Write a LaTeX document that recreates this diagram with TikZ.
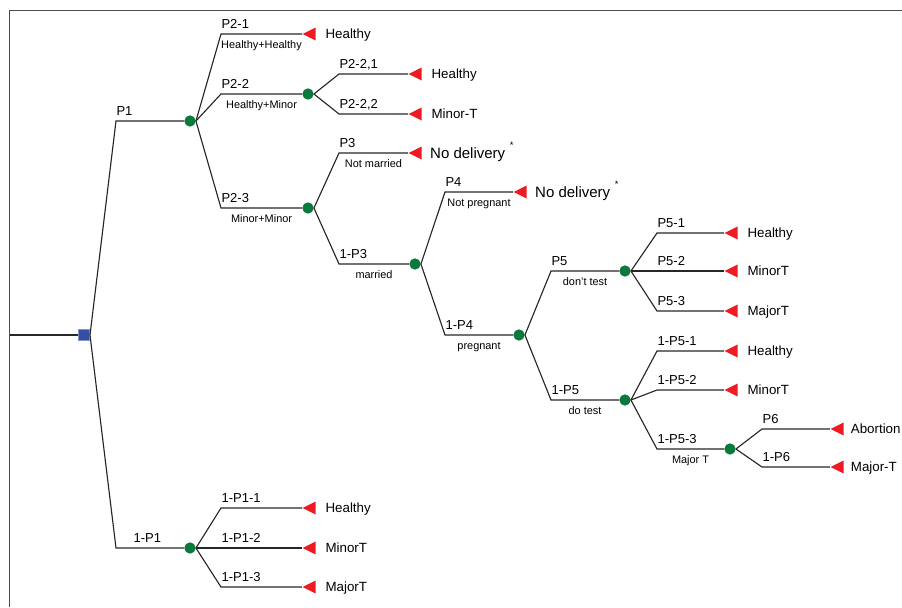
\documentclass[tikz,border=0pt]{standalone}
\usepackage{fontspec}
\setmainfont{Liberation Sans}
\usepackage{xcolor}
\usepackage{tikz}
\usetikzlibrary{
	shapes.geometric,positioning
}
\definecolor{dotgreen}{RGB}{10,122,60}
\definecolor{sqblue}{RGB}{52,78,165}
\definecolor{termred}{RGB}{237,28,36}

\begin{document}
\begin{tikzpicture}[x=0.75pt,y=-0.75pt,
	frame/.style={draw=black!70,line width=0.75pt},
	branch/.style={draw=black!85,line width=0.85pt},
	chance/.style={circle,fill=dotgreen,inner sep=0pt,minimum size=8.5pt},
	decide/.style={rectangle,fill=sqblue,draw=sqblue!60!white,line width=0.4pt,inner sep=0pt,minimum size=8.6pt},
	term/.style={isosceles triangle,isosceles triangle stretches,shape border rotate=180,
		fill=termred,inner sep=0pt,minimum width=9.75pt,minimum height=9.75pt,anchor=apex},
	toplbl/.style={anchor=base west,inner sep=0pt,yshift=4pt,font=\fontsize{9.75}{11}\selectfont},
	botlbl/.style={anchor=base,inner sep=0pt,yshift=-10.8pt,font=\fontsize{8.2}{9}\selectfont},
	endtxt/.style={inner sep=0pt,text height=7.2pt,text depth=0pt,font=\fontsize{10}{12}\selectfont},
	bigtxt/.style={inner sep=0pt,text height=8pt,text depth=0pt,font=\fontsize{11.25}{13}\selectfont}]
	\useasboundingbox (0,0) rectangle (902,607);
	\draw[frame] (9.5,607) -- (9.5,10.5) -- (902,10.5);
	%
	\node[decide] (d0) at (84,335) {};
	\node[chance] (c1) at (190,121) {};
	\node[chance] (c2) at (308,94) {};
	\node[chance] (c3) at (308,208) {};
	\node[chance] (c4) at (415,264) {};
	\node[chance] (c5) at (519,335) {};
	\node[chance] (c6) at (625,271) {};
	\node[chance] (c7) at (625,400) {};
	\node[chance] (c8) at (730,449) {};
	\node[chance] (c9) at (190,548) {};
	%
	\node[term] (t1) at (302,34) {};
	\node[term] (t2) at (408,74) {};
	\node[term] (t3) at (408,114) {};
	\node[term] (t4) at (408,153) {};
	\node[term] (t5) at (513,192) {};
	\node[term] (t6) at (724,233) {};
	\node[term] (t7) at (724,271) {};
	\node[term] (t8) at (724,311) {};
	\node[term] (t9) at (724,351) {};
	\node[term] (t10) at (724,390) {};
	\node[term] (t11) at (830,429) {};
	\node[term] (t12) at (830,467) {};
	\node[term] (t13) at (302,508) {};
	\node[term] (t14) at (302,548) {};
	\node[term] (t15) at (302,587) {};
	%
	\node[endtxt,right=7pt of t1] (e1) {Healthy};
	\node[endtxt,right=7pt of t2] (e2) {Healthy};
	\node[endtxt,right=7pt of t3] (e3) {Minor-T};
	\node[bigtxt,right=6pt of t4] (e4) {No delivery\hspace{3.5pt}\raisebox{7.5pt}{\fontsize{7}{7}\selectfont *}};
	\node[bigtxt,right=6pt of t5] (e5) {No delivery\hspace{3.5pt}\raisebox{7.5pt}{\fontsize{7}{7}\selectfont *}};
	\node[endtxt,right=7pt of t6] (e6) {Healthy};
	\node[endtxt,right=7pt of t7] (e7) {MinorT};
	\node[endtxt,right=7pt of t8] (e8) {MajorT};
	\node[endtxt,right=7pt of t9] (e9) {Healthy};
	\node[endtxt,right=7pt of t10] (e10) {MinorT};
	\node[endtxt,right=5pt of t11] (e11) {Abortion};
	\node[endtxt,right=5pt of t12] (e12) {Major-T};
	\node[endtxt,right=7pt of t13] (e13) {Healthy};
	\node[endtxt,right=7pt of t14] (e14) {MinorT};
	\node[endtxt,right=7pt of t15] (e15) {MajorT};
	%
	\coordinate (in) at (9.5,335);
	\coordinate (k1) at (116,121);
	\coordinate (k1n) at (116,548);
	\coordinate (k21) at (221,34);
	\coordinate (k22) at (221,94);
	\coordinate (k23) at (221,208);
	\coordinate (k221) at (339,74);
	\coordinate (k222) at (339,114);
	\coordinate (k3) at (339,153);
	\coordinate (k3n) at (339,264);
	\coordinate (k4) at (445,192);
	\coordinate (k4n) at (445,335);
	\coordinate (k5) at (551,271);
	\coordinate (k5n) at (551,400);
	\coordinate (k51) at (657,233);
	\coordinate (k52) at (657,271);
	\coordinate (k53) at (657,311);
	\coordinate (k5n1) at (657,351);
	\coordinate (k5n2) at (657,390);
	\coordinate (k5n3) at (657,449);
	\coordinate (k6) at (762,429);
	\coordinate (k6n) at (762,467);
	\coordinate (k1n1) at (221,508);
	\coordinate (k1n2) at (221,548);
	\coordinate (k1n3) at (221,587);
	%
	\draw[branch] (in) -- (d0);
	\draw[branch] (d0.east) -- (k1) node[toplbl]{P1} -- (c1);
	\draw[branch] (d0.east) -- (k1n) node[toplbl,xshift=12.75pt]{1-P1} -- (c9);
	\draw[branch] (c1.east) -- (k21) node[toplbl]{P2-1} -- node[botlbl]{Healthy+Healthy} (t1);
	\draw[branch] (c1.east) -- (k22) node[toplbl]{P2-2} -- node[botlbl]{Healthy+Minor} (c2);
	\draw[branch] (c1.east) -- (k23) node[toplbl]{P2-3} -- node[botlbl]{Minor+Minor} (c3);
	\draw[branch] (c2.east) -- (k221) node[toplbl]{P2-2,1} -- (t2);
	\draw[branch] (c2.east) -- (k222) node[toplbl]{P2-2,2} -- (t3);
	\draw[branch] (c3.east) -- (k3) node[toplbl]{P3} -- node[botlbl]{Not married} (t4);
	\draw[branch] (c3.east) -- (k3n) node[toplbl]{1-P3} -- node[botlbl]{married} (c4);
	\draw[branch] (c4.east) -- (k4) node[toplbl]{P4} -- node[botlbl]{Not pregnant} (t5);
	\draw[branch] (c4.east) -- (k4n) node[toplbl]{1-P4} -- node[botlbl]{pregnant} (c5);
	\draw[branch] (c5.east) -- (k5) node[toplbl]{P5} -- node[botlbl]{don't test} (c6);
	\draw[branch] (c5.east) -- (k5n) node[toplbl]{1-P5} -- node[botlbl]{do test} (c7);
	\draw[branch] (c6.east) -- (k51) node[toplbl]{P5-1} -- (t6);
	\draw[branch] (c6.east) -- (k52) node[toplbl]{P5-2} -- (t7);
	\draw[branch] (c6.east) -- (k53) node[toplbl]{P5-3} -- (t8);
	\draw[branch] (c7.east) -- (k5n1) node[toplbl]{1-P5-1} -- (t9);
	\draw[branch] (c7.east) -- (k5n2) node[toplbl]{1-P5-2} -- (t10);
	\draw[branch] (c7.east) -- (k5n3) node[toplbl]{1-P5-3} -- node[botlbl]{Major T} (c8);
	\draw[branch] (c8.east) -- (k6) node[toplbl]{P6} -- (t11);
	\draw[branch] (c8.east) -- (k6n) node[toplbl]{1-P6} -- (t12);
	\draw[branch] (c9.east) -- (k1n1) node[toplbl]{1-P1-1} -- (t13);
	\draw[branch] (c9.east) -- (k1n2) node[toplbl]{1-P1-2} -- (t14);
	\draw[branch] (c9.east) -- (k1n3) node[toplbl]{1-P1-3} -- (t15);
\end{tikzpicture}
\end{document}
